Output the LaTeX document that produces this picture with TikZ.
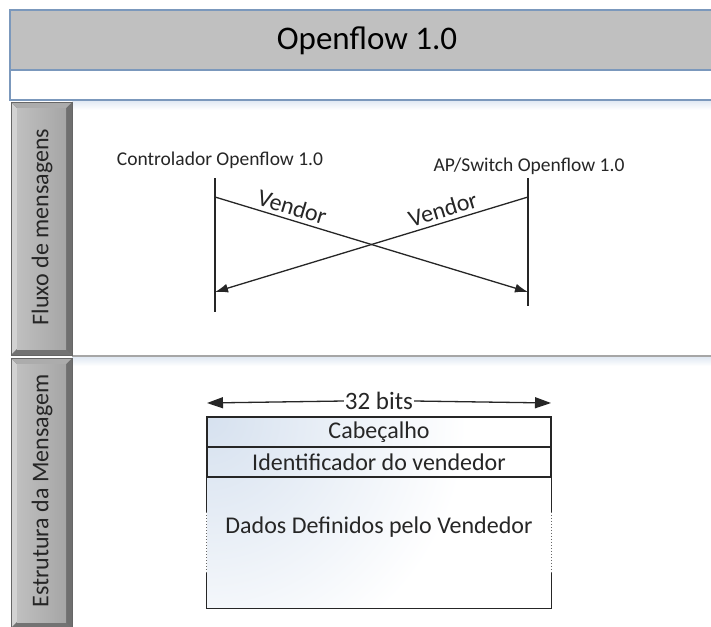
\documentclass[tikz,border=0pt]{standalone}
\usepackage{fontspec}
\setmainfont{Carlito}
\usetikzlibrary{arrows.meta}

\definecolor{titlegray}{HTML}{C0C0C0}
\definecolor{frameblue}{HTML}{7B98BC}
\definecolor{inkgray}{HTML}{262626}
\definecolor{tablink}{HTML}{D2D2D2}
\definecolor{tabdark}{HTML}{6F6F6F}
\definecolor{sepgray}{HTML}{A6A6A6}
\definecolor{paleblue}{HTML}{D6E1EF}

\tikzset{
  lifeline/.style={draw=inkgray, line width=1.4pt},
  msg/.style={draw=inkgray, line width=1.3pt, -{Latex[length=13pt,width=9pt]}},
  msglabel/.style={font=\fontsize{24}{26}\selectfont, text=inkgray, inner sep=1pt},
  actor/.style={font=\fontsize{19.5}{21}\selectfont, text=inkgray, inner sep=0pt},
  sidelabel/.style={font=\fontsize{24}{26}\selectfont, text=inkgray, rotate=90, inner sep=0pt},
  cell/.style={draw=inkgray, line width=1.3pt, minimum width=344pt, inner sep=0pt,
    font=\fontsize{24}{26}\selectfont, text=inkgray},
  fieldtext/.style={font=\fontsize{24}{26}\selectfont, text=inkgray, inner sep=0pt},
}

\newcommand{\bevtab}[2]{% top y, bottom y of a grey bevelled tab
  \fill[tabdark] (11,#1) rectangle (72,#2);
  \fill[tablink] (11,#1) -- (17,#1+6) -- (17,#2-6) -- (11,#2) -- cycle;
  \fill[gray!65] (11,#1) -- (72,#1) -- (66,#1+6) -- (17,#1+6) -- cycle;
  \fill[gray!110] (11,#2) -- (17,#2-6) -- (66,#2-6) -- (72,#2) -- cycle;
  \shade[left color=gray!50, right color=gray!70] (17,#1+6) rectangle (66,#2-6);
  \draw[gray!120, line width=0.6pt] (11,#1) rectangle (72,#2);
}

\begin{document}
\begin{tikzpicture}[x=1pt,y=-1pt]
\useasboundingbox (0,0) rectangle (711,626);
\fill[white] (0,0) rectangle (711,626);

% heading band
\fill[titlegray] (10,10) rectangle (713,70);
\draw[frameblue, line width=1.2pt] (713,10) -- (10,10) -- (10,100) -- (713,100);
\draw[frameblue, line width=1.2pt] (10,70) -- (713,70);
\node[font=\fontsize{33}{35}\selectfont, text=black] (title) at (367,41) {Openflow 1.0};

% soft shadows under the band and the section divider
\shade[top color=paleblue!70, bottom color=white] (72,101) rectangle (713,110);
\fill[sepgray] (72,355) rectangle (713,357.5);
\shade[top color=paleblue!70, bottom color=white] (72,357.5) rectangle (713,366);

% lane tabs
\bevtab{102}{355}
\bevtab{358}{628}
\node[sidelabel] (lane1) at (42,227) {Fluxo de mensagens};
\node[sidelabel] (lane2) at (42,491) {Estrutura da Mensagem};

% message sequence
\node[actor] (ctl) at (220,160) {Controlador Openflow 1.0};
\node[actor] (sw) at (529,166) {AP/Switch Openflow 1.0};
\coordinate (ctlTop) at (215,178);
\coordinate (ctlBot) at (215,312);
\coordinate (swTop) at (528,178);
\coordinate (swBot) at (528,306);
\draw[lifeline] (ctlTop) -- (ctlBot);
\draw[lifeline] (swTop) -- (swBot);

\coordinate (m1s) at (215,197);
\coordinate (m1e) at (528,292);
\coordinate (m2s) at (528,197);
\coordinate (m2e) at (215,292);
\draw[msg] (m1s) -- node[msglabel, pos=0.235, sloped, above=3pt] (v1) {Vendor} (m1e);
\draw[msg] (m2s) -- node[msglabel, pos=0.26, sloped, above=3pt] (v2) {Vendor} (m2e);

% message layout: pale wash spreading from the upper left corner
\begin{scope}
  \clip (207,417) rectangle (551,608);
  \shade[inner color=paleblue, outer color=white] (207,417) circle (260);
\end{scope}
\node[cell, minimum height=30pt] (hdr) at (379,432) {Cabeçalho};
\node[cell, minimum height=30pt] (vid) at (379,462) {Identificador do vendedor};
\node[minimum width=344pt, minimum height=131pt, inner sep=0pt] (data) at (379,542.5) {};
\node[fieldtext] (datatext) at (379,527) {Dados Definidos pelo Vendedor};

\draw[inkgray, line width=1.3pt] (data.north west) -- ++(0,35);
\draw[inkgray, line width=1.3pt] (data.north east) -- ++(0,35);
\draw[inkgray!70, line width=1pt, dotted] ([yshift=-35pt]data.north west) -- ([yshift=35pt]data.south west);
\draw[inkgray!70, line width=1pt, dotted] ([yshift=-35pt]data.north east) -- ([yshift=35pt]data.south east);
\draw[inkgray, line width=1.3pt] ([yshift=35pt]data.south west) -- (data.south west) -- (data.south east) -- ([yshift=35pt]data.south east);

% width marker
\coordinate (wl) at (207,403);
\coordinate (wr) at (551,403);
\node[fill=white, inner sep=1pt, font=\fontsize{25}{27}\selectfont, text=inkgray] (bits) at (379,401) {32 bits};
\draw[inkgray, line width=1.3pt, -{Triangle[length=16pt,width=11pt]}] (bits.west) -- (wl);
\draw[inkgray, line width=1.3pt, -{Triangle[length=16pt,width=11pt]}] (bits.east) -- (wr);
\end{tikzpicture}
\end{document}
